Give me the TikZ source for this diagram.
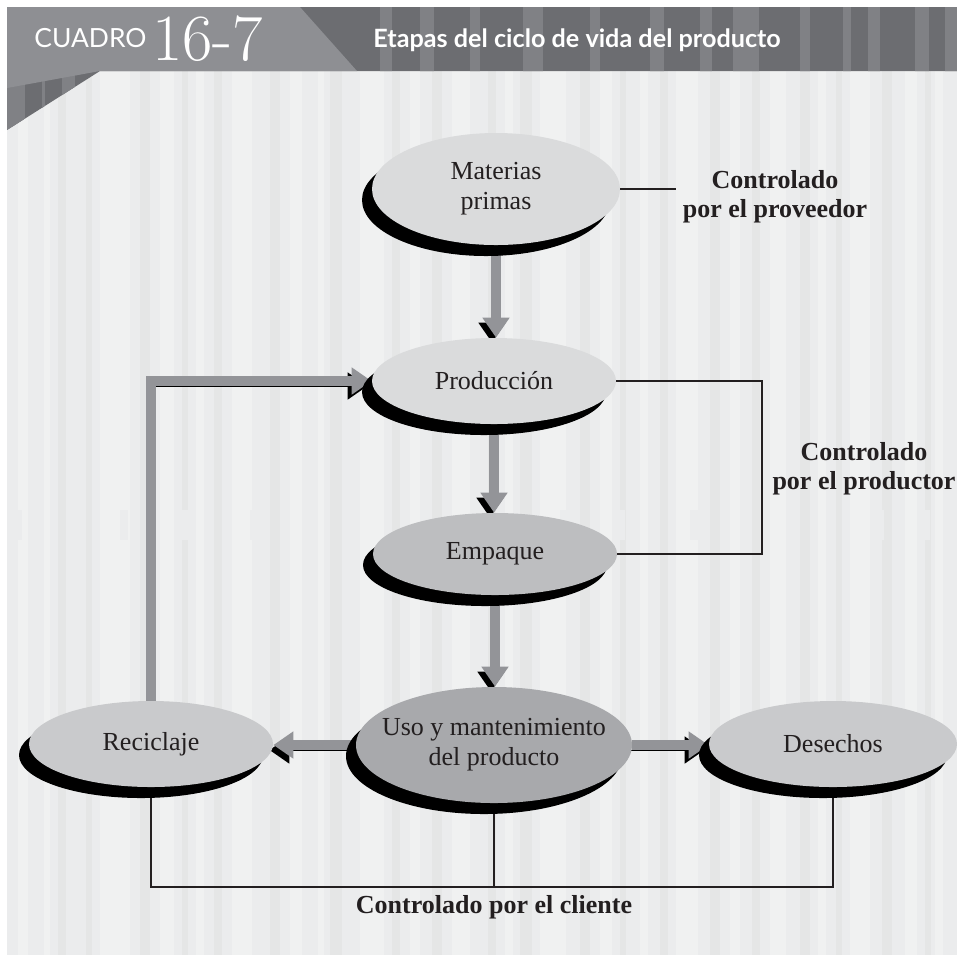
\documentclass[tikz,border=0pt]{standalone}
\usepackage{fontspec}
\newfontfamily\labelfont{Liberation Serif}
\newfontfamily\headfont{Lato}
\usetikzlibrary{arrows.meta,shapes.geometric,shadows}
\definecolor{inkdark}{HTML}{231F20}
\definecolor{bgbase}{HTML}{EBECED}
\definecolor{bglight}{HTML}{F0F1F1}
\definecolor{bgdark}{HTML}{E5E6E6}
\definecolor{headdark}{HTML}{6C6D71}
\definecolor{headmid}{HTML}{808185}
\definecolor{headlight}{HTML}{8E8F93}
\definecolor{stagelight}{HTML}{DADBDC}
\definecolor{stagemid}{HTML}{C9CACC}
\definecolor{stagepack}{HTML}{BDBEC0}
\definecolor{stagedark}{HTML}{A8A9AC}
\definecolor{arrowgray}{HTML}{939498}
\pgfdeclarelayer{back}
\pgfdeclarelayer{links}
\pgfsetlayers{back,links,main}

\begin{document}
\begin{tikzpicture}[
    x=0.5pt, y=-0.5pt,
    stage/.style={ellipse, fill=#1, text=inkdark, inner sep=0pt, align=center,
        font=\labelfont\fontsize{13}{15}\selectfont,
        drop shadow={shadow xshift=-5pt, shadow yshift=-5.5pt, fill=black, opacity=1}},
    stage/.default=stagelight,
    fatarrow/.style={draw=arrowgray, line width=5pt, -{Triangle[width=13pt,length=10pt]},
        preaction={draw=black, transform canvas={shift={(-2pt,-2.5pt)}}}},
    ctrlline/.style={draw=inkdark, line width=1pt},
    ctrlnote/.style={font=\labelfont\bfseries\fontsize{13}{14.5}\selectfont, text=inkdark, align=center},
    headtext/.style={text=white, inner sep=0pt, anchor=base west}
]
    \useasboundingbox (0,0) rectangle (957,955);

    \begin{pgfonlayer}{back}
        \fill[white] (0,0) rectangle (957,955);
        % striped page
        \begin{scope}
            \clip (100,71) -- (957,71) -- (957,955) -- (7,955) -- (7,130) -- cycle;
            \fill[bgbase] (7,71) rectangle (957,955);
            \foreach \x/\w in {18/10, 44/6, 100/30, 160/14, 196/8, 232/20, 290/12, 318/6, 360/24,
                410/10, 452/18, 505/8, 540/26, 600/12, 640/8, 676/22, 730/10, 770/16, 818/8,
                850/20, 905/12, 935/8}
                \fill[bglight] (\x,71) rectangle ++(\w,884);
            \foreach \x/\w in {58/8, 86/6, 140/10, 182/6, 214/8, 270/10, 330/12, 392/8, 432/10,
                488/8, 520/12, 580/10, 620/6, 660/8, 710/10, 752/8, 800/10, 836/6, 882/10, 925/6}
                \fill[bgdark] (\x,71) rectangle ++(\w,884);
            \foreach \x/\w in {10/12, 70/10, 120/8, 175/14, 250/10, 305/8, 345/12, 420/10,
                470/14, 560/8, 615/10, 690/12, 790/8, 870/14, 920/10}
                \fill[bgbase] (\x,510) rectangle ++(\w,30);
        \end{scope}
        % header band
        \begin{scope}
            \clip (7,7) -- (957,7) -- (957,71) -- (100,71) -- (7,130) -- cycle;
            \fill[headdark] (7,7) rectangle (957,130);
            \foreach \x/\w in {7/18, 42/3, 62/13, 380/12, 420/14, 470/10, 523/20, 590/10,
                650/14, 700/12, 733/26, 800/10, 843/8, 868/12, 915/14, 945/12}
                \fill[headmid] (\x,7) rectangle ++(\w,123);
        \end{scope}
        \fill[headlight] (7,7) -- (300,7) -- (357,71) -- (100,71) -- (7,88) -- cycle;
    \end{pgfonlayer}

    \node[headtext, font=\headfont\fontsize{13.2}{15}\selectfont] (cuadro) at (34,47) {CUADRO};
    \node[headtext, font=\fontsize{33}{36}\selectfont] (cuadronum) at (152,60) {16-7};
    \node[headtext, font=\headfont\bfseries\fontsize{12.6}{14}\selectfont] (title) at (373,47)
        {Etapas del ciclo de vida del producto};

    \node[stage, minimum width=124pt, minimum height=56pt] (materias) at (496,189) {Materias\\primas};
    \node[stage, minimum width=122pt, minimum height=43pt] (produccion) at (494,381) {Producción};
    \node[stage=stagepack, minimum width=122pt, minimum height=41pt] (empaque) at (495,554) {Empaque};
    \node[stage=stagedark, minimum width=138pt, minimum height=58pt, inner xsep=-14pt] (uso) at (494,745)
        {Uso y mantenimiento\\del producto};
    \node[stage=stagemid, minimum width=122pt, minimum height=43pt] (reciclaje) at (151,744) {Reciclaje};
    \node[stage=stagemid, minimum width=124pt, minimum height=43pt] (desechos) at (833,744) {Desechos};

    \node[ctrlnote] (provnote) at (775,197) {Controlado\\por el proveedor};
    \node[ctrlnote] (prodnote) at (864,469) {Controlado\\por el productor};
    \node[ctrlnote, anchor=base] (clientnote) at (494,913) {Controlado por el cliente};
    \coordinate (prodbend) at (762,470);
    \coordinate (clientbar) at (494,887);

    \begin{pgfonlayer}{links}
        \draw[fatarrow] (materias.south) -- (materias.south |- produccion.north);
        \draw[fatarrow] (produccion.south) -- (produccion.south |- empaque.north);
        \draw[fatarrow] (empaque.south) -- (empaque.south |- uso.north);
        \draw[fatarrow] (uso.west) -- (uso.west -| reciclaje.east);
        \draw[fatarrow] (uso.east) -- (uso.east -| desechos.west);
        \draw[fatarrow] (reciclaje.north) |- (produccion.west);

        \draw[ctrlline] (materias.east) -- (materias.east -| provnote.west);
        \draw[ctrlline] (produccion.east) -| (prodbend) |- (empaque.east);
        \draw[ctrlline] (reciclaje.south) |- (clientbar) -| (desechos.south);
        \draw[ctrlline] (uso.south) -- (clientbar);
    \end{pgfonlayer}
\end{tikzpicture}
\end{document}
